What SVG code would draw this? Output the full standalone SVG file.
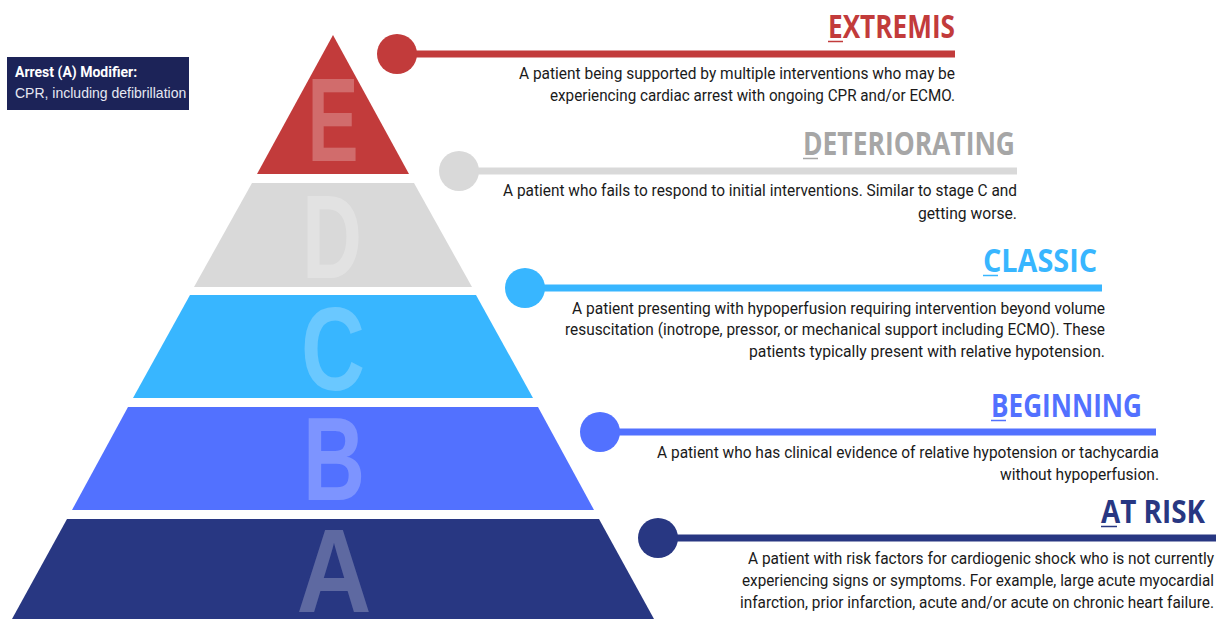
<svg xmlns="http://www.w3.org/2000/svg" width="1216" height="619" viewBox="0 0 1216 619">
<style>
.title{font-family:"Open Sans","Liberation Sans",sans-serif;font-weight:700;font-size:33px;text-anchor:end}
.desc{font-family:Roboto,"Liberation Sans",sans-serif;font-size:17px;fill:#1a1a1a;text-anchor:end}
.big{font-family:"Liberation Sans",Arial,sans-serif;font-weight:700;font-size:119px;fill:#ffffff;fill-opacity:0.25;text-anchor:middle}
.bar{stroke-width:7;fill:none}
</style>
<rect width="1216" height="619" fill="#ffffff"/>
<g id="modifier">
<rect x="7" y="57" width="182" height="53" fill="#1c2358"/>
<text x="15" y="77" font-family="Roboto,'Liberation Sans',sans-serif" font-weight="700" font-size="14" fill="#ffffff">Arrest (A) Modifier:</text>
<text x="15" y="98" font-family="'Liberation Sans',Arial,sans-serif" font-size="14" fill="#e6e8f2">CPR, including defibrillation</text>
</g>
<g id="tier-E">
<polygon points="333,35 409,174 257,174" fill="#c23b3b"/>
<text class="big" x="333" y="161" font-size="103" textLength="51" lengthAdjust="spacingAndGlyphs">E</text>
</g>
<g id="tier-D">
<polygon points="252,183 414,183 472,287 194,287" fill="#d9d9d9"/>
<text class="big" x="332" y="278" textLength="60" lengthAdjust="spacingAndGlyphs">D</text>
</g>
<g id="tier-C">
<polygon points="190,295 476,295 533,398 133,398" fill="#38b6ff"/>
<text class="big" x="333" y="390" textLength="64" lengthAdjust="spacingAndGlyphs">C</text>
</g>
<g id="tier-B">
<polygon points="128,407 538,407 594,510 72,510" fill="#5271ff"/>
<text class="big" x="334" y="500" textLength="62" lengthAdjust="spacingAndGlyphs">B</text>
</g>
<g id="tier-A">
<polygon points="67,519 599,519 654,619 12,619" fill="#283782"/>
<text class="big" x="334" y="612" textLength="75" lengthAdjust="spacingAndGlyphs">A</text>
</g>
<g id="connectors">
<line class="bar" x1="397" y1="54" x2="955" y2="54" stroke="#c23b3b"/>
<circle cx="397" cy="54" r="20" fill="#c23b3b"/>
<line class="bar" x1="459" y1="171" x2="1017" y2="171" stroke="#d9d9d9"/>
<circle cx="459" cy="171" r="20" fill="#d9d9d9"/>
<line class="bar" x1="525" y1="288" x2="1102" y2="288" stroke="#38b6ff"/>
<circle cx="525" cy="288" r="20" fill="#38b6ff"/>
<line class="bar" x1="600" y1="432" x2="1156" y2="432" stroke="#5271ff"/>
<circle cx="600" cy="432" r="20" fill="#5271ff"/>
<line class="bar" x1="658" y1="538" x2="1216" y2="538" stroke="#283782"/>
<circle cx="658" cy="538" r="20" fill="#283782"/>
</g>
<g id="label-E">
<text class="title" x="955" y="38" fill="#c23b3b" textLength="127" lengthAdjust="spacingAndGlyphs">EXTREMIS</text>
<line x1="828" y1="41.5" x2="843" y2="41.5" stroke="#c23b3b" stroke-width="1.5"/>
<text class="desc" x="955" y="79" textLength="436" lengthAdjust="spacingAndGlyphs">A patient being supported by multiple interventions who may be</text>
<text class="desc" x="955" y="101" textLength="405" lengthAdjust="spacingAndGlyphs">experiencing cardiac arrest with ongoing CPR and/or ECMO.</text>
</g>
<g id="label-D">
<text class="title" x="1015" y="155" fill="#a6a6a6" textLength="212" lengthAdjust="spacingAndGlyphs">DETERIORATING</text>
<line x1="803" y1="158.5" x2="818" y2="158.5" stroke="#a6a6a6" stroke-width="1.5"/>
<text class="desc" x="1017" y="196" textLength="514" lengthAdjust="spacingAndGlyphs">A patient who fails to respond to initial interventions. Similar to stage C and</text>
<text class="desc" x="1017" y="219" textLength="99" lengthAdjust="spacingAndGlyphs">getting worse.</text>
</g>
<g id="label-C">
<text class="title" x="1097" y="272" fill="#38b6ff" textLength="114" lengthAdjust="spacingAndGlyphs">CLASSIC</text>
<line x1="983" y1="275.5" x2="998" y2="275.5" stroke="#38b6ff" stroke-width="1.5"/>
<text class="desc" x="1105" y="314" textLength="533" lengthAdjust="spacingAndGlyphs">A patient presenting with hypoperfusion requiring intervention beyond volume</text>
<text class="desc" x="1105" y="335" textLength="540" lengthAdjust="spacingAndGlyphs">resuscitation (inotrope, pressor, or mechanical support including ECMO). These</text>
<text class="desc" x="1105" y="357" textLength="356" lengthAdjust="spacingAndGlyphs">patients typically present with relative hypotension.</text>
</g>
<g id="label-B">
<text class="title" x="1142" y="417" fill="#5271ff" textLength="151" lengthAdjust="spacingAndGlyphs">BEGINNING</text>
<line x1="991" y1="420.5" x2="1006" y2="420.5" stroke="#5271ff" stroke-width="1.5"/>
<text class="desc" x="1159" y="458" textLength="502" lengthAdjust="spacingAndGlyphs">A patient who has clinical evidence of relative hypotension or tachycardia</text>
<text class="desc" x="1159" y="480" textLength="159" lengthAdjust="spacingAndGlyphs">without hypoperfusion.</text>
</g>
<g id="label-A">
<text class="title" x="1205" y="523" fill="#283782" textLength="104" lengthAdjust="spacingAndGlyphs">AT RISK</text>
<line x1="1101" y1="526.5" x2="1117" y2="526.5" stroke="#283782" stroke-width="1.5"/>
<text class="desc" x="1214" y="564" textLength="466" lengthAdjust="spacingAndGlyphs">A patient with risk factors for cardiogenic shock who is not currently</text>
<text class="desc" x="1214" y="586" textLength="472" lengthAdjust="spacingAndGlyphs">experiencing signs or symptoms. For example, large acute myocardial</text>
<text class="desc" x="1214" y="608" textLength="474" lengthAdjust="spacingAndGlyphs">infarction, prior infarction, acute and/or acute on chronic heart failure.</text>
</g>
</svg>
